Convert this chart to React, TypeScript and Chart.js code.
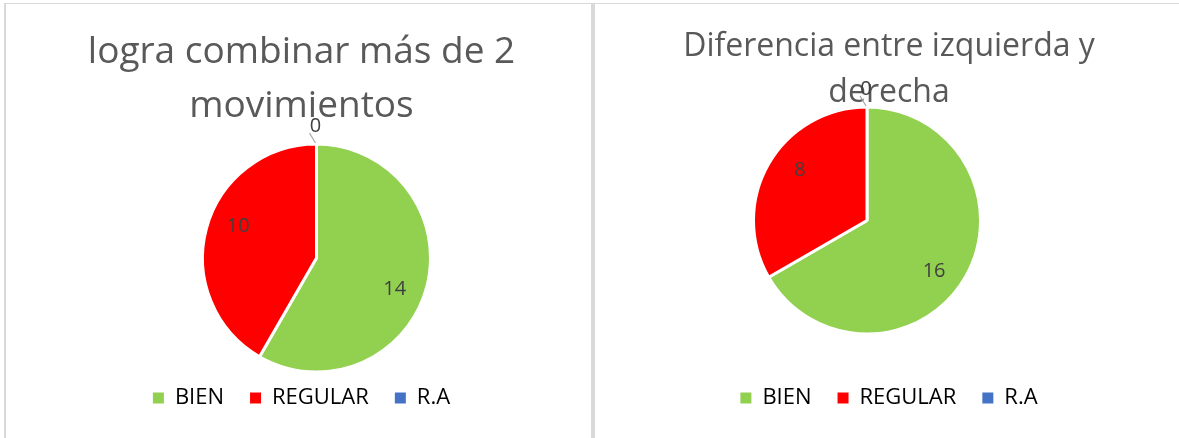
import React, { useEffect, useRef } from "react";
import { Chart, registerables } from "chart.js";

Chart.register(...registerables);

const categories = ["BIEN", "REGULAR", "R.A"];
const sliceColors = ["#92D050", "#FF0000", "#4472C4"];

const title1 = ["logra combinar más de 2", "movimientos"];
const values1 = [14, 10, 0];

const title2 = ["Diferencia entre izquierda y", "derecha"];
const values2 = [16, 8, 0];

const FONT = "'Open Sans', 'Noto Sans', 'DejaVu Sans', sans-serif";
const TEXT = "#595959";
const LABEL = "#404040";

const sliceLabels = {
  id: "sliceLabels",
  afterLayout(chart: any, _args: any, opts: any) {
    const a = chart.chartArea;
    const dx = opts.dx || 0;
    const dy = opts.dy || 0;
    a.left += dx;
    a.right += dx;
    a.top += dy;
    a.bottom += dy;
  },
  afterDatasetsDraw(chart: any, _args: any, opts: any) {
    const ctx = chart.ctx;
    const meta = chart.getDatasetMeta(0);
    const data = chart.data.datasets[0].data;
    ctx.save();
    ctx.font = `${opts.size}px ${FONT}`;
    ctx.textAlign = "center";
    ctx.textBaseline = "middle";
    meta.data.forEach((arc: any, i: number) => {
      const p = arc.getProps(["x", "y", "startAngle", "endAngle", "outerRadius"], true);
      const v = data[i];
      const mid = (p.startAngle + p.endAngle) / 2;
      if (v > 0) {
        const ang = mid + opts.angleShift;
        const r = p.outerRadius * opts.inside;
        ctx.fillStyle = LABEL;
        ctx.fillText(String(v), p.x + Math.cos(ang) * r, p.y + Math.sin(ang) * r);
      } else {
        const ex = p.x + Math.cos(mid) * (p.outerRadius + 1);
        const ey = p.y + Math.sin(mid) * (p.outerRadius + 1);
        ctx.strokeStyle = "#A6A6A6";
        ctx.lineWidth = 1.2;
        ctx.beginPath();
        ctx.moveTo(ex - 1, ey);
        ctx.lineTo(ex - 7, ey - 10);
        ctx.stroke();
        ctx.fillStyle = LABEL;
        ctx.fillText(String(v), ex - 1, ey - 17);
      }
    });
    ctx.restore();
  },
};

function makeConfig(title: string[], values: number[], o: any) {
  return {
    type: "pie",
    data: {
      labels: categories,
      datasets: [
        {
          data: values,
          backgroundColor: sliceColors,
          borderColor: "#FFFFFF",
          borderWidth: 3,
          radius: o.radius,
          clip: false,
        },
      ],
    },
    plugins: [sliceLabels],
    options: {
      responsive: false,
      animation: false,
      events: [],
      devicePixelRatio: 1,
      layout: { padding: { top: 0, bottom: 19, left: o.padLeft, right: 0 } },
      plugins: {
        title: {
          display: true,
          text: title,
          color: TEXT,
          font: { family: FONT, size: o.titleSize, weight: "normal", lineHeight: o.titleLH },
          padding: { top: o.titleTop, bottom: 10 },
        },
        legend: {
          display: true,
          position: "bottom",
          labels: {
            color: TEXT,
            font: { family: FONT, size: 22 },
            boxWidth: 11,
            boxHeight: 11,
            padding: 26,
            generateLabels: (chart: any) =>
              chart.data.labels.map((text: string, i: number) => ({
                text,
                fillStyle: sliceColors[i],
                strokeStyle: sliceColors[i],
                lineWidth: 0,
                hidden: false,
                index: i,
              })),
          },
        },
        tooltip: { enabled: false },
        sliceLabels: { dx: o.dx, dy: o.dy, size: 20, inside: 0.74, angleShift: (7 * Math.PI) / 180 },
      },
    },
  };
}

function PieChart(props: { title: string[]; values: number[]; o: any; left: number; width: number }) {
  const ref = useRef<HTMLCanvasElement | null>(null);
  useEffect(() => {
    if (!ref.current) return;
    const chart = new Chart(ref.current, makeConfig(props.title, props.values, props.o) as any);
    return () => chart.destroy();
  }, []);
  return (
    <canvas
      ref={ref}
      width={props.width}
      height={438}
      style={{ position: "absolute", left: props.left, top: 0, width: props.width, height: 438 }}
    />
  );
}

export default function App() {
  return (
    <div
      style={{
        position: "absolute",
        left: 0,
        top: 0,
        width: 1179,
        height: 438,
        overflow: "hidden",
        background: "#FFFFFF",
      }}
    >
      <PieChart
        title={title1}
        values={values1}
        left={6}
        width={585}
        o={{ radius: 114, titleSize: 37, titleLH: 54 / 37, titleTop: 25, dx: 15, dy: 6, padLeft: 6 }}
      />
      <PieChart
        title={title2}
        values={values2}
        left={595}
        width={584}
        o={{ radius: 113.5, titleSize: 32, titleLH: 46 / 32, titleTop: 24, dx: -22, dy: -23, padLeft: 4 }}
      />
      <div style={{ position: "absolute", left: 4, top: 3, width: 1175, height: 1, background: "#D9D9D9" }} />
      <div style={{ position: "absolute", left: 4, top: 3, width: 2, height: 435, background: "#D9D9D9" }} />
      <div style={{ position: "absolute", left: 591, top: 3, width: 4, height: 435, background: "#D9D9D9" }} />
    </div>
  );
}
